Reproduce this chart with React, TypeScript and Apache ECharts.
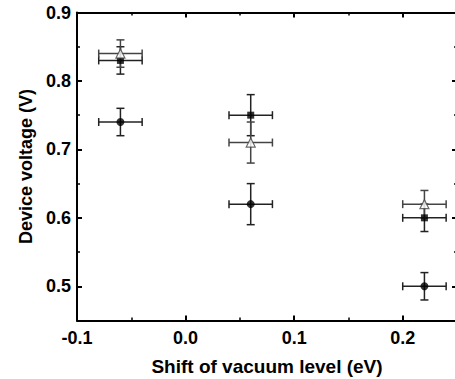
import React, { useEffect, useRef } from "react";
import * as echarts from "echarts";

const xShift = [-0.06, 0.06, 0.22];
const squareY = [0.83, 0.75, 0.6];
const squareYErr = [0.02, 0.03, 0.02];
const triangleY = [0.84, 0.71, 0.62];
const triangleYErr = [0.02, 0.03, 0.02];
const circleY = [0.74, 0.62, 0.5];
const circleYErr = [0.02, 0.03, 0.02];
const xErr = [0.02, 0.02, 0.02];

const FONT = "Liberation Sans";
const X_MIN = -0.1;
const X_MAX = 0.25;
const Y_MIN = 0.45;
const Y_MAX = 0.9;

function errData(ys: number[], yerr: number[]) {
  return xShift.map((x, i) => [x, ys[i], xErr[i], yerr[i]]);
}
function ptData(ys: number[]) {
  return xShift.map((x, i) => [x, ys[i]]);
}

function errSeries(ys: number[], yerr: number[], color: string) {
  return {
    type: "custom",
    data: errData(ys, yerr),
    encode: { x: 0, y: 1 },
    z: 2,
    renderItem: (params: any, api: any) => {
      const x = api.value(0);
      const y = api.value(1);
      const xe = api.value(2);
      const ye = api.value(3);
      const l = api.coord([x - xe, y]);
      const r = api.coord([x + xe, y]);
      const t = api.coord([x, y + ye]);
      const b = api.coord([x, y - ye]);
      const cap = 4;
      const style = { stroke: color, lineWidth: 1.5 };
      const ln = (x1: number, y1: number, x2: number, y2: number) => ({
        type: "line",
        shape: { x1, y1, x2, y2 },
        style,
      });
      return {
        type: "group",
        children: [
          ln(l[0], l[1], r[0], r[1]),
          ln(l[0], l[1] - cap, l[0], l[1] + cap),
          ln(r[0], r[1] - cap, r[0], r[1] + cap),
          ln(t[0], t[1], b[0], b[1]),
          ln(t[0] - cap, t[1], t[0] + cap, t[1]),
          ln(b[0] - cap, b[1], b[0] + cap, b[1]),
        ],
      };
    },
  };
}

export default function App() {
  const ref = useRef<HTMLDivElement>(null);
  useEffect(() => {
    const chart = echarts.init(ref.current!, null, { renderer: "svg" });
    const axisLine = { onZero: false, lineStyle: { color: "#000", width: 2 } };
    const majorTick = { inside: true, length: 5, lineStyle: { color: "#000", width: 2 } };
    const minorTick = { inside: true, length: 3, lineStyle: { color: "#000", width: 1.5 } };
    const label = { fontFamily: FONT, fontWeight: "bold", fontSize: 18, color: "#000" };
    const isMajor = (v: number) => Math.abs(v * 10 - Math.round(v * 10)) < 1e-6;
    const fmt = (v: number) => (isMajor(v) ? v.toFixed(1) : "");
    const none = { show: false };

    const xMain = (position: string, withLabels: boolean) => ({
      type: "value",
      position,
      min: X_MIN,
      max: X_MAX,
      splitNumber: 4,
      axisLine,
      axisTick: majorTick,
      splitLine: none,
      axisLabel: withLabels
        ? { ...label, margin: 8, formatter: fmt }
        : none,
      ...(withLabels
        ? {
            name: "Shift of vacuum level (eV)",
            nameLocation: "middle",
            nameGap: 36,
            nameTextStyle: { ...label, fontSize: 19 },
          }
        : {}),
    });
    const xMinor = (position: string) => ({
      type: "value",
      position,
      min: X_MIN,
      max: X_MAX,
      interval: 0.05,
      axisLine: { ...axisLine, show: false },
      axisTick: minorTick,
      splitLine: none,
      axisLabel: none,
    });
    const yMain = (position: string, withLabels: boolean) => ({
      type: "value",
      position,
      min: Y_MIN,
      max: Y_MAX,
      splitNumber: 5,
      axisLine,
      axisTick: majorTick,
      splitLine: none,
      axisLabel: withLabels
        ? { ...label, margin: 6, formatter: fmt }
        : none,
      ...(withLabels
        ? {
            name: "Device voltage (V)",
            nameLocation: "middle",
            nameGap: 38,
            nameTextStyle: { ...label, fontSize: 18 },
          }
        : {}),
    });
    const yMinor = (position: string) => ({
      type: "value",
      position,
      min: Y_MIN,
      max: Y_MAX,
      interval: 0.05,
      axisLine: { ...axisLine, show: false },
      axisTick: minorTick,
      splitLine: none,
      axisLabel: none,
    });

    chart.setOption({
      animation: false,
      backgroundColor: "#fff",
      grid: { left: 77, right: -2, top: 12.5, bottom: 58.5, containLabel: false, outerBoundsMode: "none" },
      xAxis: [xMain("bottom", true), xMain("top", false), xMinor("bottom"), xMinor("top")],
      yAxis: [yMain("left", true), yMain("right", false), yMinor("left"), yMinor("right")],
      series: [
        errSeries(squareY, squareYErr, "#222"),
        errSeries(triangleY, triangleYErr, "#444"),
        errSeries(circleY, circleYErr, "#222"),
        {
          type: "scatter",
          data: ptData(squareY),
          symbol: "rect",
          symbolSize: 7,
          itemStyle: { color: "#000" },
          z: 3,
        },
        {
          type: "scatter",
          data: ptData(triangleY),
          symbol: "triangle",
          symbolSize: 9,
          itemStyle: { color: "#fff", borderColor: "#444", borderWidth: 1.2 },
          z: 3,
        },
        {
          type: "scatter",
          data: ptData(circleY),
          symbol: "circle",
          symbolSize: 8,
          itemStyle: { color: "#000" },
          z: 3,
        },
      ],
    });
    return () => chart.dispose();
  }, []);
  return (
    <div
      ref={ref}
      style={{ position: "fixed", left: 0, top: 0, width: 455, height: 379 }}
    />
  );
}
